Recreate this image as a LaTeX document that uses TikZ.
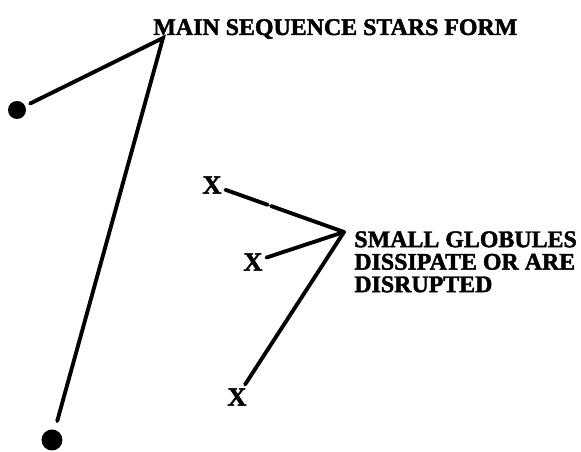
\documentclass[tikz,border=0pt]{standalone}
\usepackage{fontspec}
\setmainfont{Liberation Serif}[BoldFeatures={FakeBold=1.8}]
\usetikzlibrary{positioning}

\begin{document}
\begin{tikzpicture}[
    stage/.style={font=\bfseries\fontsize{13.6}{12.8}\selectfont, inner sep=0pt, align=left},
    link/.style={line width=2.2pt, line cap=round},
    broken/.style={dash pattern=on 0.9cm off 0.07cm on 4cm},
    star/.style={circle, fill=black, inner sep=0pt, minimum size=0.36cm},
    globule/.style={font=\bfseries\fontsize{15}{15}\selectfont, inner sep=2pt}
  ]
    \useasboundingbox (0,0) rectangle (11.62,9.04);

    % Main sequence stars
    \node[star] (star1) at (0.34,6.84) {};
    \node[star, minimum size=0.42cm] (star2) at (1.04,0.24) {};
    \coordinate (mainfork) at (3.26,8.28);
    \node[stage, anchor=base west] (mainlabel) at (3.06,8.34) {MAIN SEQUENCE STARS FORM};
    \draw[link, shorten <=3pt, shorten >=5pt] (star1) -- (mainfork) -- (star2);

    % Small globules
    \node[globule] (glob1) at (4.24,5.34) {X};
    \node[globule] (glob2) at (5.06,3.80) {X};
    \node[globule] (glob3) at (4.74,1.10) {X};
    \coordinate (globfork) at (6.88,4.40);
    \node[stage, anchor=north west] (globlabel) at (7.08,4.42) {SMALL GLOBULES\\DISSIPATE OR ARE\\DISRUPTED};
    \draw[link, broken] (glob1) -- (globfork);
    \foreach \g in {glob2,glob3}
      \draw[link] (\g) -- (globfork);
  \end{tikzpicture}
\end{document}
